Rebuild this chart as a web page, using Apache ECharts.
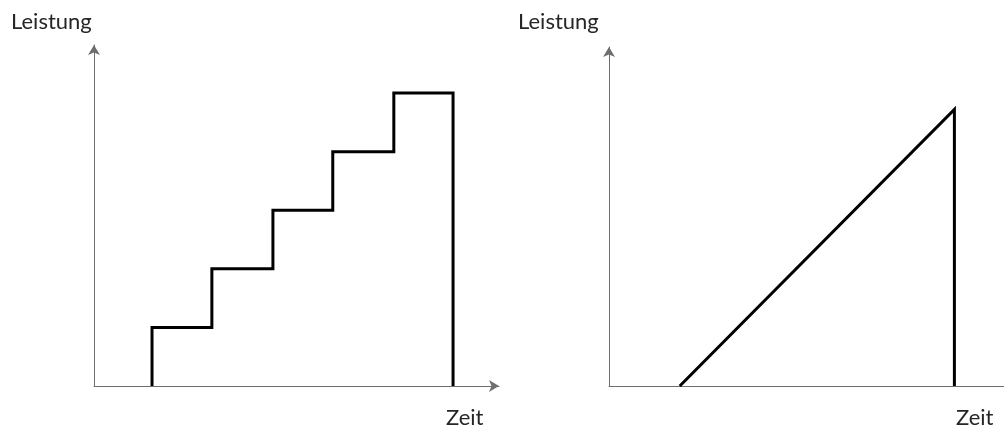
<!DOCTYPE html>
<html><head><meta charset="utf-8">
<script src="https://cdn.jsdelivr.net/npm/echarts@6/dist/echarts.min.js"></script>
<style>html,body{margin:0;padding:0;background:#fff}#c{width:1004px;height:431px}</style>
</head><body><div id="c"></div>
<script>
// Left panel: stepped power increase
const stepTimes = [0.96, 1.95, 2.96, 3.95, 4.96, 5.94];
const stepLevels = [1, 2, 3, 4, 5];
// Right panel: linear ramp
const rampTimes = [1.17, 5.71, 5.71];
const rampLevels = [0, 4.72, 0];
const yLabel = 'Leistung';
const xLabel = 'Zeit';

const stepPts = [[stepTimes[0], 0]];
for (let i = 0; i < stepLevels.length; i++) {
  stepPts.push([stepTimes[i], stepLevels[i]]);
  stepPts.push([stepTimes[i + 1], stepLevels[i]]);
}
stepPts.push([stepTimes[stepTimes.length - 1], 0]);
const rampPts = rampTimes.map((t, i) => [t, rampLevels[i]]);

const axisCol = '#6e6e6e';
function xA(idx, arrow, max) {
  return { type: 'value', gridIndex: idx, min: 0, max: max, splitLine: { show: false },
    axisTick: { show: false }, axisLabel: { show: false },
    axisLine: { show: true, symbol: arrow ? ['none', 'arrow'] : 'none', symbolSize: [9, 10],
      lineStyle: { color: axisCol, width: 1 } } };
}
function yA(idx, max) {
  return { type: 'value', gridIndex: idx, min: 0, max: max, splitLine: { show: false },
    axisTick: { show: false }, axisLabel: { show: false },
    axisLine: { show: true, symbol: ['none', 'arrow'], symbolSize: [9, 10],
      lineStyle: { color: axisCol, width: 1 } } };
}
const font = 'Lato, "Open Sans", sans-serif';
function txt(x, y, s) {
  return { type: 'text', x: x, y: y, style: { text: s, font: '22px ' + font, fill: '#262626',
    textVerticalAlign: 'top' } };
}
const chart = echarts.init(document.getElementById('c'));
chart.setOption({
  animation: false,
  grid: [
    { left: 94, top: 45, width: 405, height: 341 },
    { left: 609, top: 47, width: 395, height: 339 }
  ],
  xAxis: [xA(0, true, 6.7), xA(1, false, 6.53)],
  yAxis: [yA(0, 5.82), yA(1, 5.785)],
  series: [
    { type: 'line', xAxisIndex: 0, yAxisIndex: 0, data: stepPts, symbol: 'none',
      lineStyle: { color: '#000', width: 3, join: 'miter' } },
    { type: 'line', xAxisIndex: 1, yAxisIndex: 1, data: rampPts, symbol: 'none',
      lineStyle: { color: '#000', width: 3, join: 'miter' } }
  ],
  graphic: [
    txt(11, 11, yLabel), txt(518, 11, yLabel),
    txt(446, 407, xLabel), txt(956, 407, xLabel)
  ]
});
</script></body></html>
